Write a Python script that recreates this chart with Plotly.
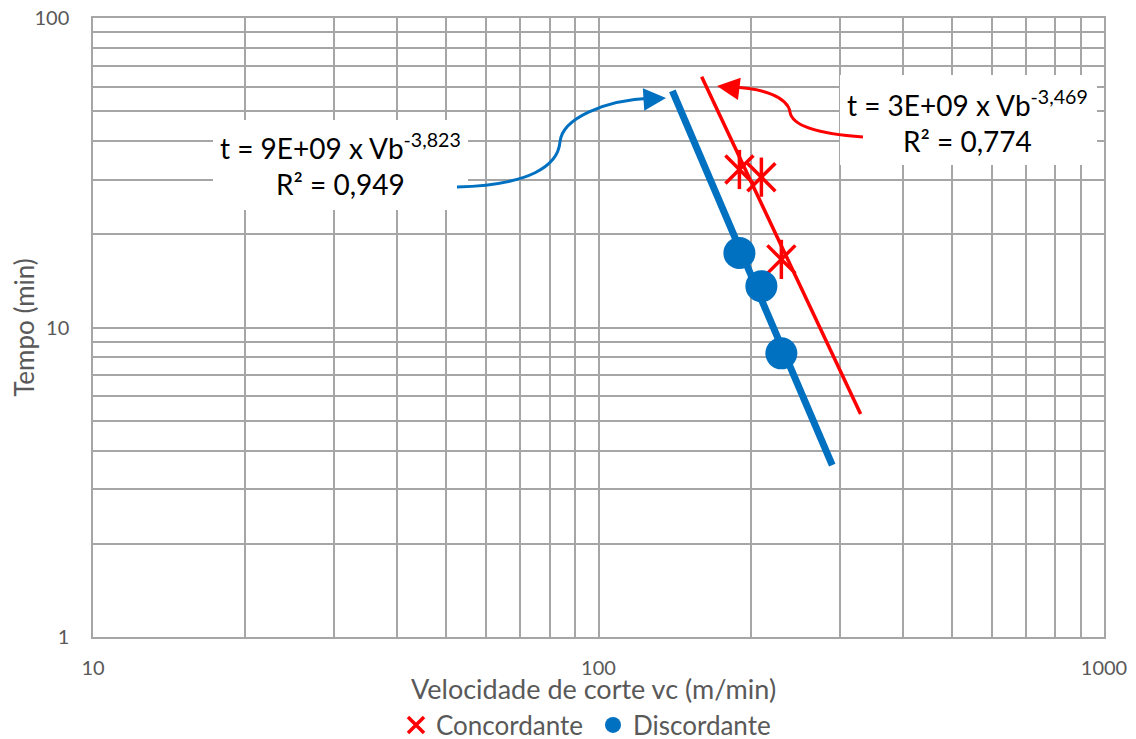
import plotly.graph_objects as go

# ---- data ----
speeds = [190, 210, 230]                 # Velocidade de corte vc (m/min)
tempo_concordante = [32.4, 30.6, 16.6]   # Tempo (min)
tempo_discordante = [17.4, 13.6, 8.25]

trend_conc_v = [160, 330]
trend_conc_t = [64.6, 5.25]
trend_disc_v = [140, 290]
trend_disc_t = [58.1, 3.59]

eq_conc = "t = 3E+09 x Vb<sup>-3,469</sup><br>R² = 0,774"
eq_disc = "t = 9E+09 x Vb<sup>-3,823</sup><br>R² = 0,949"

x_title = "Velocidade de corte vc (m/min)"
y_title = "Tempo (min)"
x_ticks = [10, 100, 1000]
y_ticks = [1, 10, 100]

RED = "#FF0000"
BLUE = "#0070C0"
GRID = "#a6a6a6"
FONT = "Lato"

# page offset of the figure (default body margin) and plot-area geometry in page pixels
OFF = 8
FIG_W, FIG_H = 1136 - OFF, 739 - OFF
L, T, W, H = 93, 18, 1011, 619   # page pixels


def pp(x, y):
    return (x - L) / W, (T + H - y) / H


def path(points):
    # points: start, then groups of 3 (cubic bezier)
    sx, sy = pp(*points[0])
    s = f"M {sx:.4f},{sy:.4f}"
    rest = points[1:]
    for i in range(0, len(rest), 3):
        c = [pp(*p) for p in rest[i:i + 3]]
        s += " C " + " ".join(f"{a:.4f},{b:.4f}" for a, b in c)
    return s


fig = go.Figure()

fig.add_trace(go.Scatter(x=trend_disc_v, y=trend_disc_t, mode="lines",
                         line=dict(color=BLUE, width=7), showlegend=False, hoverinfo="skip"))
fig.add_trace(go.Scatter(x=trend_conc_v, y=trend_conc_t, mode="lines",
                         line=dict(color=RED, width=3.5), showlegend=False, hoverinfo="skip"))

fig.add_trace(go.Scatter(x=speeds, y=tempo_concordante, mode="markers", name="Concordante",
                         legendgroup="c",
                         marker=dict(symbol="x-thin-open", size=28, color=RED,
                                     line=dict(color=RED, width=3.5))))
fig.add_trace(go.Scatter(x=speeds, y=tempo_concordante, mode="markers", name="Concordante",
                         legendgroup="c", showlegend=False,
                         marker=dict(symbol="line-ns-open", size=28, color=RED,
                                     line=dict(color=RED, width=3.5))))
fig.add_trace(go.Scatter(x=speeds, y=tempo_discordante, mode="markers", name="Discordante",
                         marker=dict(symbol="circle", size=32, color=BLUE,
                                     line=dict(width=0))))

axis_common = dict(type="log", showline=True, linecolor=GRID, linewidth=1.5, mirror=True,
                   showgrid=True, gridcolor=GRID, gridwidth=1.5, zeroline=False,
                   automargin=False, ticklabeloverflow="allow",
                   tickfont=dict(family=FONT, size=20, color="#595959"),
                   ticks="outside", tickcolor="rgba(0,0,0,0)",
                   minor=dict(dtick="D1", showgrid=True, gridcolor=GRID, gridwidth=1.5,
                              ticks=""))

fig.update_xaxes(**axis_common, range=[1, 3], tickvals=x_ticks,
                 ticktext=[str(v) for v in x_ticks], ticklen=12)
fig.update_yaxes(**axis_common, range=[0, 2], tickvals=y_ticks,
                 ticktext=[str(v) for v in y_ticks], ticklen=18,
                 title=dict(text=y_title, standoff=4,
                            font=dict(family=FONT, size=26, color="#595959")))

# x-axis title placed explicitly
tx, ty = pp(593, 688)
fig.add_annotation(xref="paper", yref="paper", x=tx, y=ty, xanchor="center", yanchor="middle",
                   text=x_title, showarrow=False,
                   font=dict(family=FONT, size=27, color="#595959"))

# white boxes behind the trendline equations
for (x0, y0, x1, y1) in [(213, 120, 468, 210), (840, 75, 1097, 165)]:
    a0, b0 = pp(x0, y1)
    a1, b1 = pp(x1, y0)
    fig.add_shape(type="rect", xref="paper", yref="paper", x0=a0, y0=b0, x1=a1, y1=b1,
                  fillcolor="white", line=dict(width=0), layer="above")

# callout connectors
blue_pts = [(457, 187), (530, 185), (558, 166), (560, 142), (562, 118), (605, 100), (652, 98)]
red_pts = [(863, 137), (820, 134), (792, 126), (790, 112), (788, 98), (765, 88), (730, 87)]
fig.add_shape(type="path", xref="paper", yref="paper", path=path(blue_pts),
              line=dict(color=BLUE, width=3), layer="above")
fig.add_shape(type="path", xref="paper", yref="paper", path=path(red_pts),
              line=dict(color=RED, width=3), layer="above")

bx, by = pp(666, 98)
fig.add_annotation(xref="paper", yref="paper", x=bx, y=by, ax=-16, ay=1, text="",
                   showarrow=True, arrowhead=2, arrowsize=1.5, arrowwidth=3, arrowcolor=BLUE,
                   standoff=0)
rx, ry = pp(717, 86)
fig.add_annotation(xref="paper", yref="paper", x=rx, y=ry, ax=16, ay=2, text="",
                   showarrow=True, arrowhead=2, arrowsize=1.5, arrowwidth=3, arrowcolor=RED,
                   standoff=0)

# equation texts
ex, ey = pp(340, 165)
fig.add_annotation(xref="paper", yref="paper", x=ex, y=ey, xanchor="center", yanchor="middle",
                   text=eq_disc, showarrow=False,
                   font=dict(family=FONT, size=28, color="#000000"))
ex, ey = pp(967, 122)
fig.add_annotation(xref="paper", yref="paper", x=ex, y=ey, xanchor="center", yanchor="middle",
                   text=eq_conc, showarrow=False,
                   font=dict(family=FONT, size=28, color="#000000"))

lx, ly = pp(593, 725)
fig.update_layout(
    width=FIG_W, height=FIG_H,
    margin=dict(l=L - OFF, r=FIG_W - (L - OFF) - W, t=T - OFF, b=FIG_H - (T - OFF) - H,
                autoexpand=False),
    plot_bgcolor="white", paper_bgcolor="white",
    font=dict(family=FONT),
    legend=dict(orientation="h", x=lx, xanchor="center", y=ly, yanchor="middle",
                font=dict(family=FONT, size=26, color="#595959"), itemwidth=30,
                itemsizing="trace", entrywidth=152),
)

fig.write_html("out.html")
